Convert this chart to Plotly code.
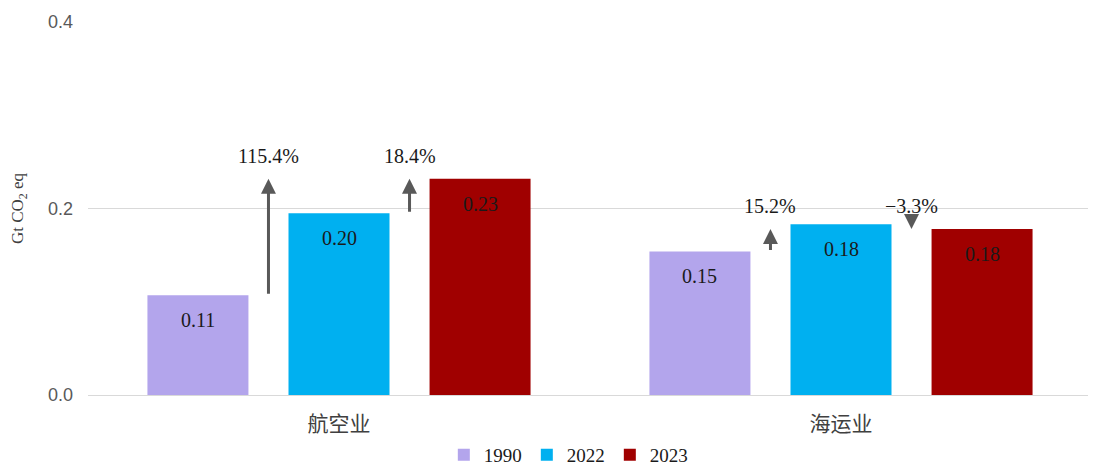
import plotly.graph_objects as go

categories = ["航空业", "海运业"]
years = ["1990", "2022", "2023"]
v1990 = [0.107, 0.154]
v2022 = [0.195, 0.183]
v2023 = [0.232, 0.178]
label1990 = ["0.11", "0.15"]
label2022 = ["0.20", "0.18"]
label2023 = ["0.23", "0.18"]
chg_prev = ["115.4%", "15.2%"]
chg_last = ["18.4%", "\u22123.3%"]
colors = ["#B3A5EC", "#00B0F0", "#A00000"]

series = [v1990, v2022, v2023]
labels = [label1990, label2022, label2023]
xpos = list(range(len(categories)))

SERIF = "Liberation Serif, Times New Roman, serif"
SANS = "Liberation Sans, Arial, sans-serif"
CJK = "Noto Sans CJK SC, sans-serif"

fig = go.Figure()
for yr, vals, col in zip(years, series, colors):
    fig.add_trace(go.Bar(x=xpos, y=vals, name=yr, showlegend=False,
                         marker=dict(color=col, line=dict(width=0))))
    fig.add_trace(go.Scatter(x=[None], y=[None], mode="markers", name=yr,
                             marker=dict(symbol="square", size=9, color=col)))

slot = (1 - 0.157) / 3
offsets = [-slot, 0, slot]

# value labels
for vals, labs, off in zip(series, labels, offsets):
    for i, (v, t) in enumerate(zip(vals, labs)):
        fig.add_annotation(x=xpos[i] + off, y=v, text=t, showarrow=False, yshift=-25,
                           font=dict(family=SERIF, size=20, color="#1a1a1a"))

# change arrows and labels
for i in xpos:
    pairs = [(v1990[i], v2023[i], -slot / 2, chg_prev[i]),
             (v2022[i], v2023[i], slot / 2, chg_last[i])]
    for tail, head, off, txt in pairs:
        xa = xpos[i] + off
        if head < tail:
            tail = tail + 0.007
        fig.add_annotation(x=xa, y=head, ax=xa, ay=tail, xref="x", yref="y", axref="x", ayref="y",
                           text="", showarrow=True, arrowhead=2, arrowsize=1.0, arrowwidth=3,
                           arrowcolor="#595959")
        fig.add_annotation(x=xa, y=head, text=txt, showarrow=False, yshift=23,
                           font=dict(family=SERIF, size=20, color="#1a1a1a"))

fig.update_layout(
    width=1088, height=466,
    margin=dict(l=80, r=4, t=14, b=79, autoexpand=False),
    plot_bgcolor="white", paper_bgcolor="white",
    barmode="group", bargap=0.157, bargroupgap=0.284,
    showlegend=True,
    legend=dict(orientation="h", xref="container", x=0.515, xanchor="center",
                yref="container", y=0.0, yanchor="bottom",
                font=dict(family=SERIF, size=19, color="#1a1a1a"),
                traceorder="normal", itemsizing="constant", itemwidth=30, tracegroupgap=0),
    xaxis=dict(range=[-0.5, 1.5], tickvals=xpos, ticktext=categories, showgrid=False,
               zeroline=False, showline=False, ticks="", automargin=False,
               ticklabelstandoff=14,
               tickfont=dict(family=CJK, size=21, color="#404040")),
    yaxis=dict(range=[0, 0.4], tickvals=[0, 0.2, 0.4], ticktext=["0.0", "0.2", "0.4"],
               showgrid=True, gridcolor="#d9d9d9", gridwidth=1, zeroline=True,
               zerolinecolor="#d9d9d9", zerolinewidth=1, showline=False, ticks="",
               automargin=False, ticklabelstandoff=14,
               tickfont=dict(family=SANS, size=18, color="#595959"),
               title=dict(text="Gt CO<sub>2</sub> eq", standoff=24,
                          font=dict(family=SERIF, size=17, color="#404040"))),
)

fig.write_html("out.html")
